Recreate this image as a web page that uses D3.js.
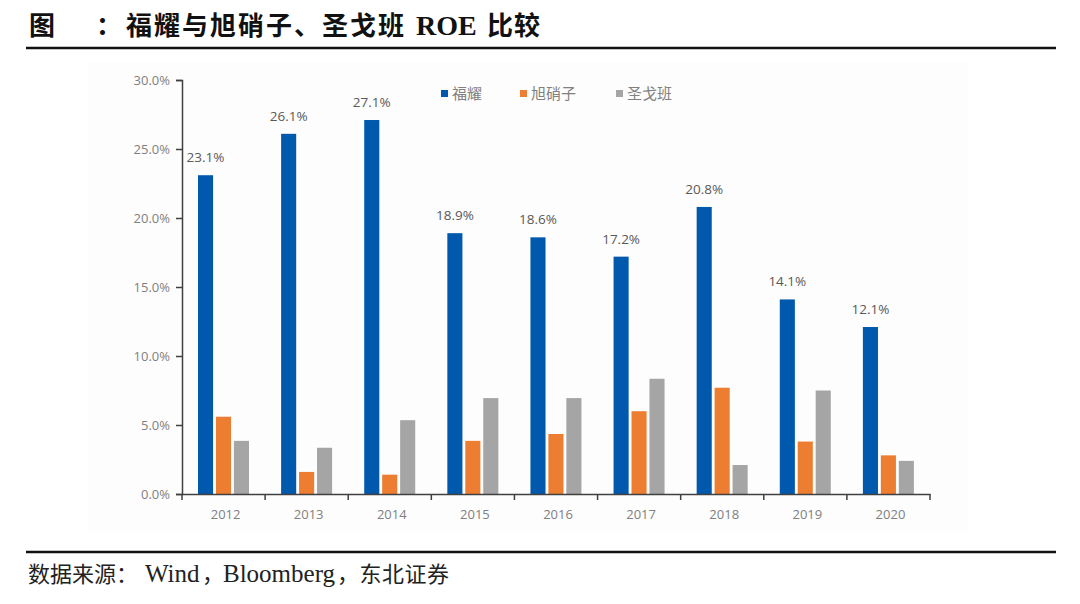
<!DOCTYPE html>
<html><head><meta charset="utf-8">
<script src="https://cdn.jsdelivr.net/npm/d3@7/dist/d3.min.js"></script>
<style>body{margin:0;background:#fff;}svg{display:block;}</style>
</head><body>
<svg id="c" width="1080" height="604"></svg>
<script>
const years = ["2012","2013","2014","2015","2016","2017","2018","2019","2020"];
const seriesNames = ["福耀","旭硝子","圣戈班"];
const fuyao = [23.1,26.1,27.1,18.9,18.6,17.2,20.8,14.1,12.1];
const asahi = [5.6,1.6,1.4,3.85,4.35,6.0,7.7,3.8,2.8];
const gobain = [3.85,3.35,5.35,6.95,6.95,8.35,2.1,7.5,2.4];
const yTicks = [0,5,10,15,20,25,30];
const colors = ["#0059AD","#ED7D31","#A5A5A5"];

const svg = d3.select("#c");
// plot background
svg.append("rect").attr("x",88).attr("y",62).attr("width",880).attr("height",470).attr("fill","#fdfdfd");

// title
const cjk = "Noto Sans CJK SC";
const t = svg.append("text").attr("y",35).attr("font-weight","bold").attr("fill","#111");
t.append("tspan").attr("x",29).attr("font-size",26).attr("font-family",cjk).text("图");
t.append("tspan").attr("x",96).attr("font-size",26).attr("font-family",cjk).text("：");
t.append("tspan").attr("x",126).attr("font-size",26).attr("letter-spacing",2).attr("font-family",cjk).text("福耀与旭硝子、圣戈班");
t.append("tspan").attr("x",416).attr("font-size",28).attr("font-family","Liberation Serif").text("ROE");
t.append("tspan").attr("x",487).attr("font-size",26).attr("letter-spacing",1).attr("font-family",cjk).text("比较");
svg.append("line").attr("x1",26).attr("x2",1056).attr("y1",48).attr("y2",48).attr("stroke","#111").attr("stroke-width",2.5);
svg.append("line").attr("x1",26).attr("x2",1056).attr("y1",552).attr("y2",552).attr("stroke","#111").attr("stroke-width",2.5);
const f = svg.append("text").attr("y",582).attr("fill","#222");
f.append("tspan").attr("x",28).attr("font-size",22).attr("font-family",cjk).text("数据来源：");
f.append("tspan").attr("x",145).attr("font-size",25).attr("font-family","Liberation Serif").text("Wind");
f.append("tspan").attr("x",202).attr("font-size",22).attr("font-family",cjk).text("，");
f.append("tspan").attr("x",223).attr("font-size",25).attr("font-family","Liberation Serif").text("Bloomberg");
f.append("tspan").attr("x",337).attr("font-size",22).attr("letter-spacing",0.5).attr("font-family",cjk).text("，东北证券");

const x0 = d3.scaleBand().domain(years).range([182,930]).paddingInner(0).paddingOuter(0);
const x1 = d3.scaleBand().domain(seriesNames).range([16,67]).paddingInner(0.16);
const y = d3.scaleLinear().domain([0,30]).range([494,80]);

const font = "Open Sans, Lato, sans-serif";
// y axis
const ya = svg.append("g").attr("transform","translate(182,0)")
  .call(d3.axisLeft(y).tickValues(yTicks).tickSize(6).tickPadding(6).tickFormat(d=>d.toFixed(1)+"%"));
ya.select(".domain").attr("stroke","#404040").attr("stroke-width",1.5);
ya.selectAll(".tick line").attr("stroke","#404040").attr("stroke-width",1.5);
ya.selectAll("text").attr("fill","#808080").attr("font-size",13).attr("font-family",font);

// bars
const data = [fuyao,asahi,gobain];
data.forEach((vals,si)=>{
  svg.append("g").selectAll("rect").data(years).join("rect")
    .attr("x",d=>x0(d)+x1(seriesNames[si]))
    .attr("width",x1.bandwidth())
    .attr("y",(d,i)=>y(vals[i]))
    .attr("height",(d,i)=>y(0)-y(vals[i]))
    .attr("fill",colors[si]);
});
// labels for fuyao
svg.append("g").selectAll("text").data(years).join("text")
  .attr("x",d=>x0(d)+x1("福耀")+x1.bandwidth()/2)
  .attr("y",(d,i)=>y(fuyao[i])-13)
  .attr("text-anchor","middle").attr("font-size",13.5).attr("font-family",font).attr("fill","#595959")
  .text((d,i)=>fuyao[i].toFixed(1)+"%");

// x axis
const xa = svg.append("g").attr("transform","translate(0,494)")
  .call(d3.axisBottom(x0).tickSize(0).tickPadding(16));
xa.select(".domain").attr("stroke","#404040").attr("stroke-width",1.5);
xa.selectAll("text").attr("fill","#808080").attr("font-size",13).attr("font-family",font).attr("dx","2");
const bounds = years.map(d=>x0(d)).concat([930]);
xa.selectAll(".bt").data(bounds).join("line").attr("class","bt")
  .attr("x1",d=>d).attr("x2",d=>d).attr("y1",0).attr("y2",6).attr("stroke","#404040").attr("stroke-width",1.5);

// legend
const lg = svg.append("g");
const lx = [441,520,616];
seriesNames.forEach((n,i)=>{
  lg.append("rect").attr("x",lx[i]).attr("y",90).attr("width",7).attr("height",7).attr("fill",colors[i]);
  lg.append("text").attr("x",lx[i]+11).attr("y",99).attr("font-size",15).attr("font-family",cjk).attr("fill","#808080").text(n);
});
</script>
</body></html>
